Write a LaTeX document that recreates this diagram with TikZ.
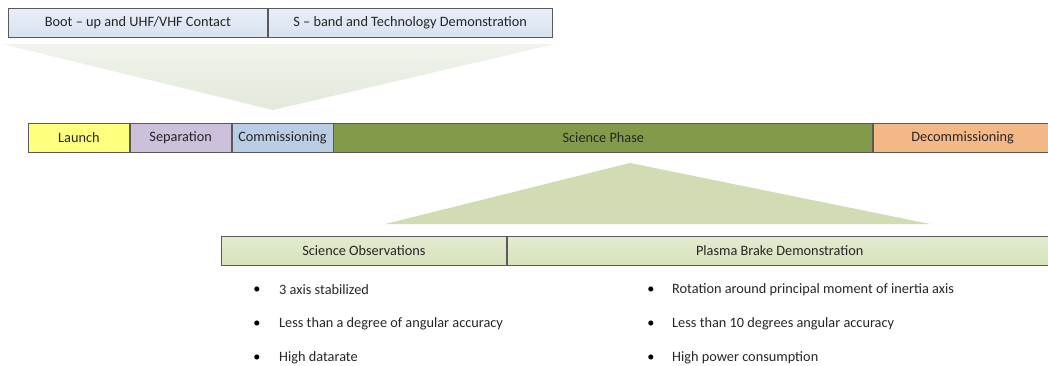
\documentclass[tikz,border=0pt]{standalone}
\usepackage{fontspec}
\setmainfont{Carlito}
\usetikzlibrary{positioning}
\definecolor{bootblue}{HTML}{D7E2F0}
\definecolor{bootbluetop}{HTML}{E8EEF7}
\definecolor{launchyellow}{HTML}{FFFF80}
\definecolor{seplilac}{HTML}{CCC0DA}
\definecolor{commblue}{HTML}{B9CDE5}
\definecolor{sciolive}{HTML}{839A4A}
\definecolor{decomorange}{HTML}{F4B887}
\definecolor{obsgreen}{HTML}{D6E2BA}
\definecolor{obsgreentop}{HTML}{E3EBCF}
\definecolor{funnelpale}{HTML}{E2E9DA}
\definecolor{funnelgreen}{HTML}{D1DBB4}
\definecolor{edgegray}{HTML}{5A5A5A}
\tikzstyle{phase}=[draw=edgegray, line width=0.8pt, minimum height=29pt, inner sep=0pt, text=black!85, font=\fontsize{14.3}{16}\selectfont]
\tikzstyle{topbox}=[phase, top color=bootbluetop, bottom color=bootblue]
\tikzstyle{obsbox}=[phase, top color=obsgreentop, bottom color=obsgreen]
\tikzstyle{bullet}=[inner sep=0pt, font=\fontsize{14.3}{16}\selectfont]
\tikzstyle{item}=[inner sep=0pt, anchor=west, text=black!85, font=\fontsize{14.3}{16}\selectfont]

\begin{document}
\begin{tikzpicture}[x=1pt,y=-1pt]
      \useasboundingbox (0,0) rectangle (1048,366);
      % funnels
      \shade [top color=funnelpale!50, bottom color=funnelpale] (2,44) -- (555,44) -- (273,110) -- cycle;
      \fill [funnelgreen] (385,224) -- (630,163) -- (930,224) -- cycle;
      % upper detail boxes
      \node[topbox, minimum width=259pt, anchor=west] (boot) at (8,23) {Boot -- up and UHF/VHF Contact};
      \node[topbox, minimum width=284pt, right=0pt of boot] (sband) {S -- band and Technology Demonstration};
      % mission timeline
      \node[phase, fill=launchyellow, minimum width=101pt, anchor=west] (launch) at (28,137.5) {Launch};
      \node[phase, fill=seplilac, minimum width=101pt, right=0pt of launch] (separation) {Separation};
      \node[phase, fill=commblue, minimum width=101pt, right=0pt of separation] (commissioning) {Commissioning};
      \node[phase, fill=sciolive, minimum width=539pt, right=0pt of commissioning] (science) {Science Phase};
      \node[phase, fill=decomorange, minimum width=178pt, right=0pt of science] (decommissioning) {Decommissioning};
      % lower detail boxes
      \node[obsbox, minimum width=285pt, anchor=west] (observations) at (221,251) {Science Observations};
      \node[obsbox, minimum width=545pt, right=0pt of observations] (plasmabrake) {Plasma Brake Demonstration};
      % bullet lists
      \node[bullet] (ob1) at (257,290) {\textbullet};
      \node[bullet] (ob2) at (257,324) {\textbullet};
      \node[bullet] (ob3) at (257,358) {\textbullet};
      \node[item] (ot1) at (279,290) {3 axis stabilized};
      \node[item] (ot2) at (279,324) {Less than a degree of angular accuracy};
      \node[item] (ot3) at (279,358) {High datarate};
      \node[bullet] (pb1) at (651,290) {\textbullet};
      \node[bullet] (pb2) at (651,324) {\textbullet};
      \node[bullet] (pb3) at (651,358) {\textbullet};
      \node[item] (pt1) at (672,290) {Rotation around principal moment of inertia axis};
      \node[item] (pt2) at (672,324) {Less than 10 degrees angular accuracy};
      \node[item] (pt3) at (672,358) {High power consumption};
\end{tikzpicture}
\end{document}
